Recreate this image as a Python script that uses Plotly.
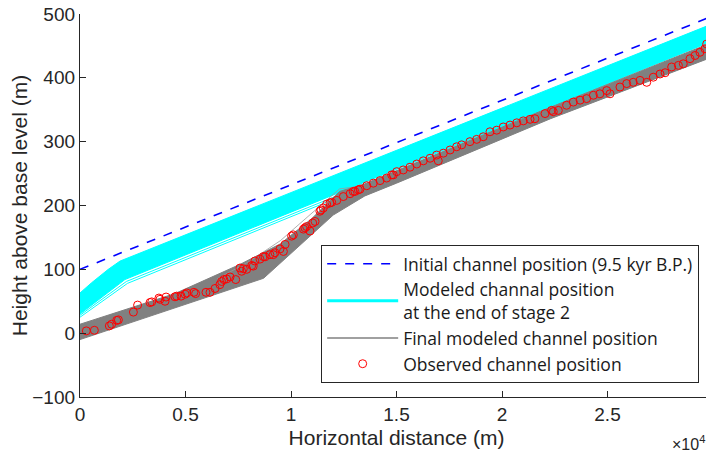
import plotly.graph_objects as go

# ---- data ----
init_x = [0, 30000]
init_y = [100, 497]

cyan_top_x = [0, 550, 1340, 1900, 30000]
cyan_top_y = [63, 79, 100, 113, 485]
cyan_bot_x = [0, 2130, 30000]
cyan_bot_y = [30, 84, 458]
cyan_thin1_x = [0, 2250, 30000]
cyan_thin1_y = [25, 78, 452]
cyan_thin2_x = [0, 2200, 30000]
cyan_thin2_y = [28, 81, 455]

gray_top_x = [0, 4500, 7600, 9500, 11000, 12300, 13500, 22000, 30000]
gray_top_y = [14, 62, 108, 140, 180, 222, 234, 350, 456]
gray_bot_x = [0, 8700, 12000, 13500, 15000, 22300, 30000]
gray_bot_y = [-10, 86, 185, 215, 235, 336, 433]
gray_thin_x = [6500, 8000, 9500, 12300, 13000]
gray_thin_y = [85, 112, 145, 226, 229]

obs_x = [300, 680, 1390, 1500, 1740, 1820, 2530, 2730, 3320, 3400, 3740, 3790, 4030, 4080,
         4500, 4580, 4790, 4980, 5060, 5400, 5480, 5970, 6160, 6400, 6630, 6710, 6820, 6950,
         7110, 7380, 7580, 7660, 7740, 7900, 8140, 8210, 8290, 8530, 8690, 8770, 9000, 9160,
         9240, 9480, 9640, 9720, 10030, 10110, 10590, 10660, 10740, 10900, 11030, 11140, 11370,
         11420, 11530, 11690, 11850, 11930, 12170, 12480, 12800, 12950, 13030, 13190, 13270,
         13590, 13900, 14220, 14530, 14770, 14850, 15010, 15320, 15640, 15960, 16270, 16590,
         16900, 16980, 17220, 17540, 17850, 18090, 18480, 18800, 19110, 19430, 19750, 20060,
         20380, 20700, 21010, 21330, 21560, 22040, 22350, 22430, 22670, 23060, 23380, 23700,
         24010, 24330, 24640, 24960, 25120, 25590, 25910, 26220, 26540, 26860, 27170, 27490,
         27730, 28040, 28360, 28590, 28910, 29150, 29380, 29620, 29700, 29940]
obs_y = [3.6, 4.5, 11.4, 14, 20, 20.8, 33, 44, 48, 49, 55, 53, 50, 56.6,
         57, 58, 58, 61, 63, 64, 62, 64, 64, 70, 76, 81, 84, 85,
         88, 84, 102, 97, 101, 100, 106, 105, 113, 116, 120, 119.6, 123, 123,
         126, 132, 128, 139, 152, 154, 163, 165, 167, 160, 172.6, 175, 191,
         193, 196, 202, 204, 205, 208, 214, 218.5, 222, 222, 224.5, 225.6,
         231, 235, 239, 243, 248, 248, 253, 255.7, 260, 265, 270, 274,
         279, 270, 282, 287, 292, 295, 300, 303.6, 307.7, 315.5, 318, 323,
         326, 329.5, 332.6, 335, 336, 344, 349, 347, 349, 357, 362, 365,
         367.5, 372.7, 375, 380, 375, 385.6, 391, 393, 396, 393, 401, 406,
         408, 417, 419.5, 422, 430, 435, 440, 445.5, 453, 450.6]

x_tickvals = [0, 5000, 10000, 15000, 20000, 25000, 30000]
x_ticktext = ["0", "0.5", "1", "1.5", "2", "2.5", "3"]
y_tickvals = [-100, 0, 100, 200, 300, 400, 500]

CYAN = "#00FFFF"
GRAY = "#808080"
AXC = "#262626"

fig = go.Figure()

# cyan ensemble (band)
fig.add_trace(go.Scatter(x=cyan_top_x, y=cyan_top_y, mode="lines",
                         line=dict(color=CYAN, width=1), showlegend=False, hoverinfo="skip"))
fig.add_trace(go.Scatter(x=cyan_bot_x, y=cyan_bot_y, mode="lines", fill="tonexty",
                         fillcolor=CYAN, line=dict(color=CYAN, width=1),
                         showlegend=False, hoverinfo="skip"))
fig.add_trace(go.Scatter(x=cyan_thin1_x, y=cyan_thin1_y, mode="lines",
                         line=dict(color=CYAN, width=1), showlegend=False, hoverinfo="skip"))
fig.add_trace(go.Scatter(x=cyan_thin2_x, y=cyan_thin2_y, mode="lines",
                         line=dict(color=CYAN, width=1), showlegend=False, hoverinfo="skip"))

# gray ensemble (band)
fig.add_trace(go.Scatter(x=gray_top_x, y=gray_top_y, mode="lines",
                         line=dict(color=GRAY, width=1), showlegend=False, hoverinfo="skip"))
fig.add_trace(go.Scatter(x=gray_bot_x, y=gray_bot_y, mode="lines", fill="tonexty",
                         fillcolor=GRAY, line=dict(color=GRAY, width=1),
                         showlegend=False, hoverinfo="skip"))
fig.add_trace(go.Scatter(x=gray_thin_x, y=gray_thin_y, mode="lines",
                         line=dict(color="#9a9a9a", width=0.8), showlegend=False, hoverinfo="skip"))

# observed
fig.add_trace(go.Scatter(x=obs_x, y=obs_y, mode="markers",
                         marker=dict(symbol="circle-open", size=8, color="#FF0000",
                                     line=dict(width=1, color="#FF0000")),
                         name="Observed channel position", legendrank=4))

# initial
fig.add_trace(go.Scatter(x=init_x, y=init_y, mode="lines",
                         line=dict(color="#0000FF", width=1.6, dash="dash"),
                         name="Initial channel position (9.5 kyr B.P.)", legendrank=1))

# legend-only samples
fig.add_trace(go.Scatter(x=[None], y=[None], mode="lines", line=dict(color=CYAN, width=3),
                         name="Modeled channal position<br>at the end of stage 2", legendrank=2))
fig.add_trace(go.Scatter(x=[None], y=[None], mode="lines", line=dict(color=GRAY, width=1.5),
                         name="Final modeled channel position", legendrank=3))

fig.update_layout(
    width=706, height=450,
    margin=dict(l=72, r=1, t=6, b=61, autoexpand=False),
    plot_bgcolor="white", paper_bgcolor="white",
    font=dict(family="Liberation Sans, Arial, sans-serif", color=AXC),
    legend=dict(x=0.381, y=0.037, xanchor="left", yanchor="bottom",
                bordercolor=AXC, borderwidth=1, bgcolor="white",
                font=dict(family="Open Sans", size=17.5, color="#1a1a1a"),
                itemwidth=71, tracegroupgap=0, traceorder="normal"),
    xaxis=dict(range=[0, 30000], tickvals=x_tickvals, ticktext=x_ticktext, automargin=False,
               ticklabeloverflow="allow",
               showgrid=False, zeroline=False, showline=True, linecolor=AXC, linewidth=1.3,
               ticks="inside", ticklen=6, tickcolor=AXC, tickfont=dict(size=19),
               title=dict(text="Horizontal distance (m)", font=dict(size=21), standoff=6)),
    yaxis=dict(range=[-100, 500], tickvals=y_tickvals, automargin=False,
               ticklabeloverflow="allow",
               showgrid=False, zeroline=False, showline=True, linecolor=AXC, linewidth=1.3,
               ticks="inside", ticklen=6, tickcolor=AXC, tickfont=dict(size=19),
               title=dict(text="Height above base level (m)", font=dict(size=21), standoff=6)),
)

fig.add_annotation(text="×10<sup>4</sup>", xref="paper", yref="paper", x=0.99, y=-0.12,
                   xanchor="right", yanchor="middle", showarrow=False,
                   font=dict(size=16, color=AXC))

fig.write_html("out.html")
